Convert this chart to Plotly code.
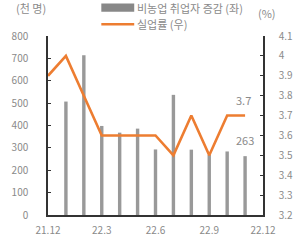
import plotly.graph_objects as go

tick_labels = ["21.12", "22.3", "22.6", "22.9", "22.12"]
tick_pos = [0, 3, 6, 9, 12]
bar_months = [1, 2, 3, 4, 5, 6, 7, 8, 9, 10, 11]
bar_values = [507, 714, 398, 368, 386, 293, 537, 292, 269, 284, 263]
line_months = [0, 1, 2, 3, 4, 5, 6, 7, 8, 9, 10, 11]
line_values = [3.9, 4.0, 3.8, 3.6, 3.6, 3.6, 3.6, 3.5, 3.7, 3.5, 3.7, 3.7]

FONT = "Noto Sans CJK KR"
GRAY = "#8a8a8a"
BAR = "#999999"
ORANGE = "#ED7D31"
AX = "#333333"

fig = go.Figure()
fig.add_trace(go.Bar(x=bar_months, y=bar_values, width=0.19, marker_color=BAR,
                     marker_line_width=0, name="비농업 취업자 증감 (좌)", showlegend=False))
fig.add_trace(go.Scatter(x=line_months, y=line_values, yaxis="y2", mode="lines",
                         line=dict(color=ORANGE, width=2.6), name="실업률 (우)",
                         showlegend=False))

# annotations of last values
fig.add_annotation(x=bar_months[-1], y=bar_values[-1], text=str(bar_values[-1]),
                   showarrow=False, yshift=16, font=dict(size=11, color=GRAY, family=FONT))
fig.add_annotation(x=line_months[-1], y=line_values[-1], yref="y2", text=str(line_values[-1]),
                   showarrow=False, yshift=16, xshift=-2, font=dict(size=11, color=GRAY, family=FONT))

# manual legend
fig.add_shape(type="rect", xref="paper", yref="paper", x0=0.248, x1=0.401, y0=1.135, y1=1.182,
              fillcolor="#888888", line_width=0)
fig.add_shape(type="line", xref="paper", yref="paper", x0=0.248, x1=0.401, y0=1.066, y1=1.066,
              line=dict(color=ORANGE, width=2.6))
fig.add_annotation(xref="paper", yref="paper", x=0.405, y=1.158, xanchor="left", yanchor="middle",
                   text="비농업 취업자 증감 (좌)", showarrow=False,
                   font=dict(size=11, color=GRAY, family=FONT))
fig.add_annotation(xref="paper", yref="paper", x=0.405, y=1.066, xanchor="left", yanchor="middle",
                   text="실업률 (우)", showarrow=False,
                   font=dict(size=11, color=GRAY, family=FONT))
fig.add_annotation(xref="paper", yref="paper", x=-0.078, y=1.158, xanchor="center", yanchor="middle",
                   text="(천 명)", showarrow=False, font=dict(size=11, color=GRAY, family=FONT))
fig.add_annotation(xref="paper", yref="paper", x=1.02, y=1.13, xanchor="center", yanchor="middle",
                   text="(%)", showarrow=False, font=dict(size=11, color=GRAY, family=FONT))

fig.update_layout(
    width=305, height=249,
    margin=dict(l=33, r=30, t=36, b=31, pad=0),
    paper_bgcolor="white", plot_bgcolor="white",
    font=dict(family=FONT, size=10, color=GRAY),
    xaxis=dict(range=[0, 12], tickvals=tick_pos, ticktext=tick_labels, showgrid=False,
               zeroline=False, showline=True, linecolor=AX, linewidth=1.5, ticks="",
               ticklabelstandoff=5),
    yaxis=dict(range=[0, 800], dtick=100, showgrid=False, zeroline=False, showline=True,
               linecolor=AX, linewidth=1.5, ticks="inside", ticklen=3, tickcolor=AX,
               ticklabelstandoff=16),
    yaxis2=dict(range=[3.2, 4.1], dtick=0.1, overlaying="y", side="right", showgrid=False,
                zeroline=False, showline=True, linecolor=AX, linewidth=1.5, ticks="inside",
                ticklen=3, tickcolor=AX, ticklabelstandoff=12, tickformat=".1~f"),
    showlegend=False,
)
fig.write_html("out.html")
